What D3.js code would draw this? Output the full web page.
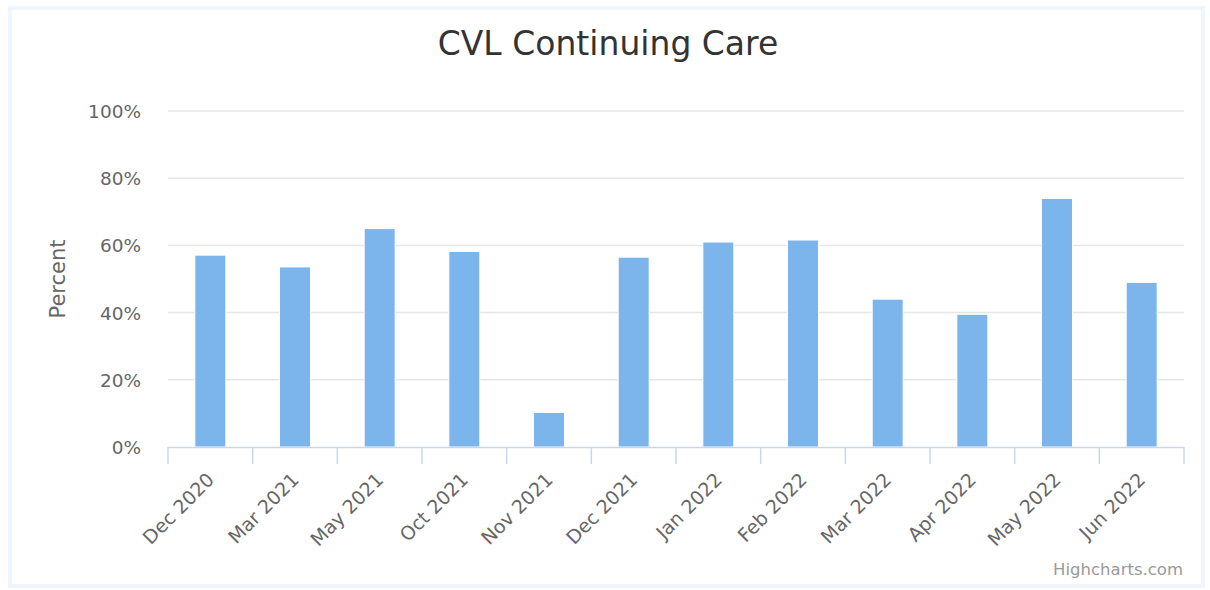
<!DOCTYPE html>
<html>
<head>
<meta charset="utf-8">
<script src="https://cdn.jsdelivr.net/npm/d3@7"></script>
<style>
  body { margin: 0; background: #fff; }
  svg { display: block; font-family: "Lucida Sans Unicode", "DejaVu Sans", sans-serif; }
</style>
</head>
<body>
<svg id="chart" width="1210" height="590"></svg>
<script>
// data
const categories = ["Dec 2020", "Mar 2021", "May 2021", "Oct 2021", "Nov 2021", "Dec 2021",
                    "Jan 2022", "Feb 2022", "Mar 2022", "Apr 2022", "May 2022", "Jun 2022"];
const percentValues = [57.1, 53.6, 65.0, 58.2, 10.3, 56.5, 61.0, 61.6, 44.0, 39.5, 74.0, 49.0];
const yTicks = [0, 20, 40, 60, 80, 100];

const svg = d3.select("#chart");
const plotLeft = 168, plotRight = 1184, plotTop = 111, plotBottom = 447;

// outer frame
svg.append("rect")
    .attr("x", 10).attr("y", 8)
    .attr("width", 1193).attr("height", 578)
    .attr("fill", "#fff")
    .attr("stroke", "#eef5fd")
    .attr("stroke-width", 4);

svg.append("text")
    .attr("x", 608).attr("y", 55)
    .attr("text-anchor", "middle")
    .attr("fill", "#333")
    .style("font-size", "33px")
    .text("CVL Continuing Care");

let x = d3.scaleBand().domain(categories).range([plotLeft, plotRight]);
let y = d3.scaleLinear().domain([0, 100]).range([plotBottom, plotTop]);

// grid
svg.append("g").selectAll("line")
    .data(yTicks.slice(1))
    .enter().append("line")
      .attr("x1", plotLeft).attr("x2", plotRight)
      .attr("y1", d => y(d)).attr("y2", d => y(d))
      .attr("stroke", "#e6e6e6")
      .attr("stroke-width", 1.5);

// y labels
svg.append("g").selectAll("text")
    .data(yTicks)
    .enter().append("text")
      .attr("x", 141)
      .attr("y", d => y(d) + 7)
      .attr("text-anchor", "end")
      .attr("fill", "#666")
      .style("font-size", "18.5px")
      .text(d => d + "%");

svg.append("text")
    .attr("transform", "translate(65," + ((plotTop + plotBottom) / 2) + ") rotate(-90)")
    .attr("text-anchor", "middle")
    .attr("fill", "#666")
    .style("font-size", "21px")
    .text("Percent");

// bars
const barW = 31;
svg.append("g").selectAll("rect")
    .data(percentValues)
    .enter().append("rect")
      .attr("x", (d, i) => x(categories[i]) + x.bandwidth() / 2 - barW / 2)
      .attr("y", d => y(d))
      .attr("width", barW)
      .attr("height", d => plotBottom - y(d))
      .attr("fill", "#7cb5ec")
      .attr("stroke", "#fff")
      .attr("stroke-width", 1);

// x axis
const xAxis = svg.append("g");
xAxis.append("line")
    .attr("x1", plotLeft).attr("x2", plotRight)
    .attr("y1", plotBottom + 0.5).attr("y2", plotBottom + 0.5)
    .attr("stroke", "#ccd6eb").attr("stroke-width", 1.5);

const tickPos = categories.map(c => x(c)).concat([plotRight]);
xAxis.selectAll("line.tick")
    .data(tickPos)
    .enter().append("line")
      .attr("class", "tick")
      .attr("x1", d => d).attr("x2", d => d)
      .attr("y1", plotBottom).attr("y2", plotBottom + 17)
      .attr("stroke", "#ccd6eb").attr("stroke-width", 1.5);

xAxis.selectAll("text")
    .data(categories)
    .enter().append("text")
      .attr("transform", d => "translate(" + (x(d) + x.bandwidth() / 2 + 5) + "," + (plotBottom + 34) + ") rotate(-45)")
      .attr("text-anchor", "end")
      .attr("fill", "#666")
      .style("font-size", "19px")
      .text(d => d);

svg.append("text")
    .attr("x", 1183).attr("y", 575)
    .attr("text-anchor", "end")
    .attr("fill", "#999")
    .style("font-size", "16.5px")
    .text("Highcharts.com");
</script>
</body>
</html>
